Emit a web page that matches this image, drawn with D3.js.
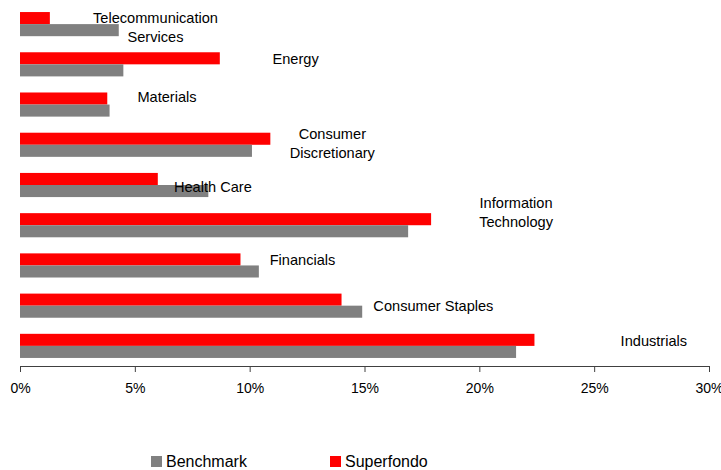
<!DOCTYPE html>
<html lang="en">
<head>
<meta charset="utf-8">
<title>Superfondo vs Benchmark</title>
<script src="https://cdn.jsdelivr.net/npm/d3@7"></script>
<style>
  body { margin: 0; background: #fff; }
  svg { display: block; font-family: "Liberation Sans", Arial, sans-serif; }
  .axis path, .axis line { stroke: #404040; }
  .axis text { font-size: 14px; fill: #000; }
  .cat { font-size: 14.6px; fill: #000; }
  .legend text { font-size: 16px; fill: #000; }
</style>
</head>
<body>
<script>
  // data (weights in %)
  var categories = ["Telecommunication Services", "Energy", "Materials", "Consumer Discretionary",
                    "Health Care", "Information Technology", "Financials", "Consumer Staples", "Industrials"];
  var labelLines = [["Telecommunication", "Services"], ["Energy"], ["Materials"], ["Consumer", "Discretionary"],
                    ["Health Care"], ["Information", "Technology"], ["Financials"], ["Consumer Staples"], ["Industrials"]];
  var superfondo = [1.3, 8.7, 3.8, 10.9, 6.0, 17.9, 9.6, 14.0, 22.4];
  var benchmark  = [4.3, 4.5, 3.9, 10.1, 8.2, 16.9, 10.4, 14.9, 21.6];
  var ticks = [0, 5, 10, 15, 20, 25, 30];
  var seriesNames = ["Benchmark", "Superfondo"];

  // where the category names sit (in % along the axis, then a little vertical nudge in px)
  var labelAt = [5.9, 12.0, 6.4, 13.6, 8.4, 21.6, 12.3, 18.0, 27.6];
  var labelNudge = [-6, -5.5, -8, -11, 2, -22, -5, 0.5, -4.5];

  var w = 721, h = 470;
  var colors = { Benchmark: "#808080", Superfondo: "#ff0000" };

  var svg = d3.select("body").append("svg")
              .attr("width", w)
              .attr("height", h);

  var x = d3.scaleLinear().domain([0, 30]).range([20, 709]);
  var y = d3.scaleBand().domain(categories).range([4, 366]).paddingInner(0.4).paddingOuter(0.2);
  var sub = d3.scaleBand().domain(["Superfondo", "Benchmark"]).range([0, y.bandwidth()]);

  var rows = categories.map(function(c, i) {
    return { cat: c, Superfondo: superfondo[i], Benchmark: benchmark[i], i: i };
  });

  var groups = svg.selectAll("g.row")
                  .data(rows)
                  .enter()
                  .append("g")
                  .attr("class", "row")
                  .attr("transform", function(d) { return "translate(0," + y(d.cat) + ")"; });

  groups.selectAll("rect")
        .data(function(d) { return ["Superfondo", "Benchmark"].map(function(k) { return { key: k, v: d[k] }; }); })
        .enter()
        .append("rect")
        .attr("x", x(0))
        .attr("y", function(d) { return sub(d.key); })
        .attr("width", function(d) { return x(d.v) - x(0); })
        .attr("height", sub.bandwidth())
        .attr("fill", function(d) { return colors[d.key]; });

  // category labels
  groups.append("text")
        .attr("class", "cat")
        .attr("text-anchor", "middle")
        .each(function(d) {
          var t = d3.select(this);
          var base = y.bandwidth() / 2 + labelNudge[d.i] + 5;
          labelLines[d.i].forEach(function(line, j) {
            t.append("tspan")
             .attr("x", x(labelAt[d.i]))
             .attr("y", base + j * 19)
             .text(line);
          });
        });

  // x axis
  svg.append("g")
     .attr("class", "axis")
     .attr("transform", "translate(0,366)")
     .call(d3.axisBottom(x).tickValues(ticks).tickSize(6).tickPadding(11)
             .tickFormat(function(d) { return d + "%"; }))
     .call(function(g) { g.select(".domain").attr("d", "M" + x(0) + ",0.5H" + x(30)); });

  // legend
  var legend = svg.append("g").attr("class", "legend");
  var legendX = [151, 330];
  seriesNames.forEach(function(name, i) {
    legend.append("rect")
          .attr("x", legendX[i])
          .attr("y", 456)
          .attr("width", 11)
          .attr("height", 11)
          .attr("fill", colors[name]);
    legend.append("text")
          .attr("x", legendX[i] + 15)
          .attr("y", 467)
          .text(name);
  });
</script>
</body>
</html>
